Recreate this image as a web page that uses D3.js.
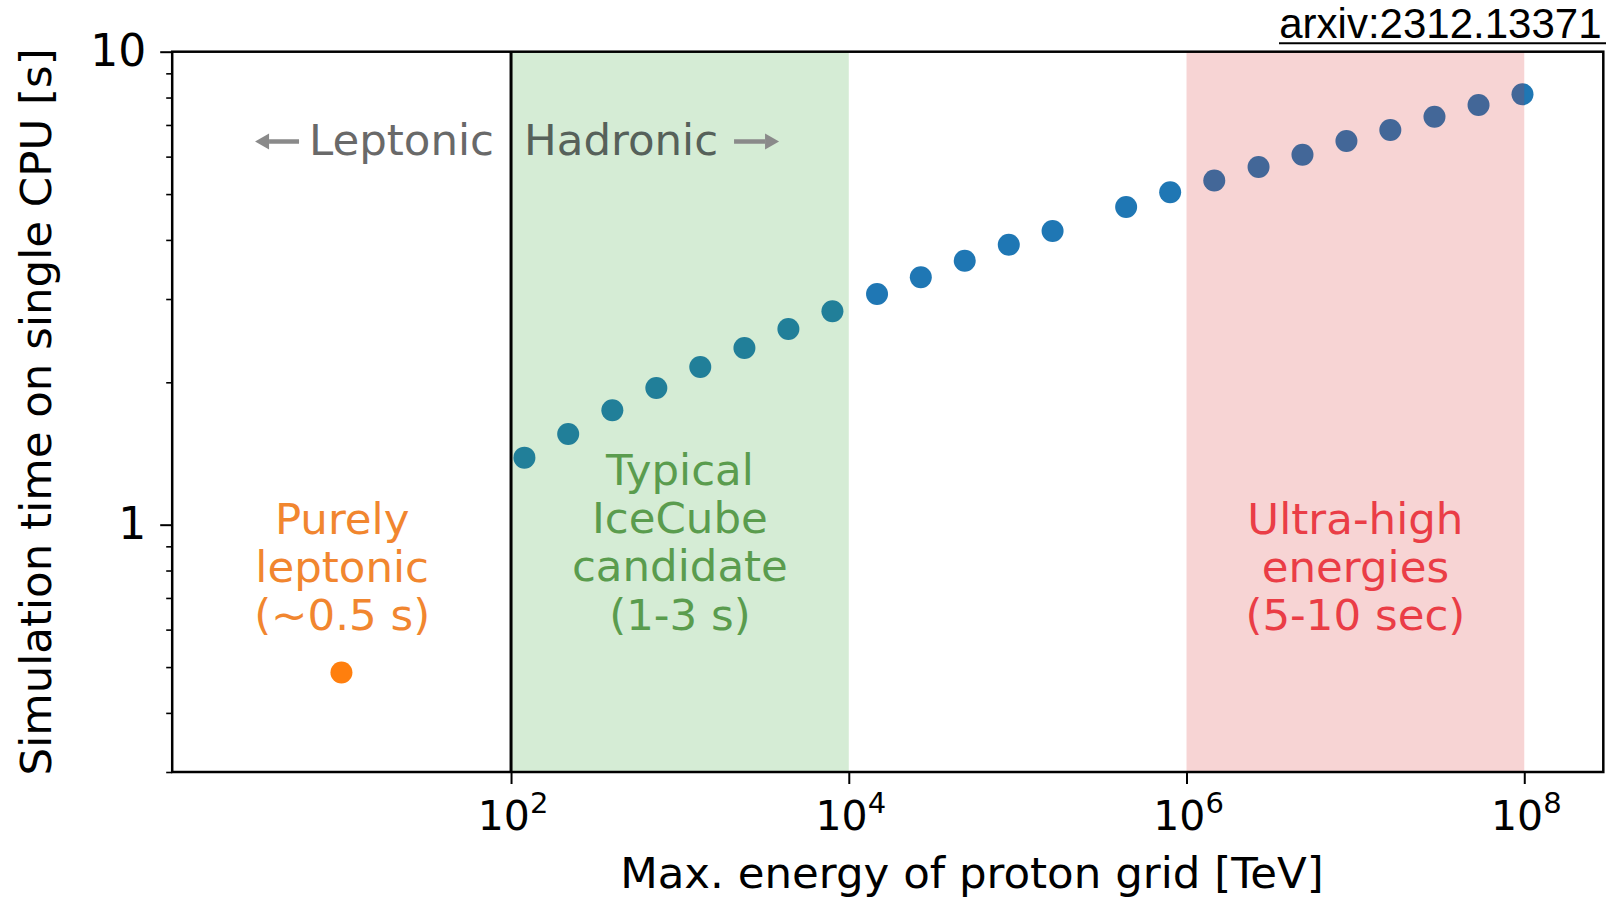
<!DOCTYPE html>
<html>
<head>
<meta charset="utf-8">
<script src="https://cdn.jsdelivr.net/npm/d3@7/dist/d3.min.js"></script>
<style>
  html, body { margin: 0; padding: 0; background: #fff; }
  svg { display: block; font-family: "DejaVu Sans", sans-serif; }
</style>
</head>
<body>
<svg id="chart" width="1607" height="898"></svg>
<script>
// Simulation time per model vs. maximum proton energy of the grid
const energyTeV = [120, 218, 398, 725, 1320, 2410, 4390, 8000, 14700, 26700, 48600, 88600,
                   161000, 439000, 800000, 1.46e6, 2.67e6, 4.86e6, 8.85e6, 1.61e7, 2.94e7, 5.36e7, 9.76e7];
const simTimeSec = [1.386, 1.555, 1.746, 1.945, 2.155, 2.364, 2.593, 2.826, 3.074, 3.334, 3.615, 3.908,
                    4.178, 4.695, 5.043, 5.34, 5.705, 6.058, 6.475, 6.831, 7.288, 7.716, 8.129];

// Purely leptonic run (no proton grid)
const leptonicEnergy = [9.9];
const leptonicTime = [0.487];

// Axis limits and ticks
const xLimits = [Math.pow(10, -0.0065), Math.pow(10, 8.468)];
const yLimits = [0.3, 10];
const xTickExponents = [2, 4, 6, 8];
const yMajorTicks = [1, 10];
const yMinorTicks = [0.3, 0.4, 0.5, 0.6, 0.7, 0.8, 0.9, 2, 3, 4, 5, 6, 7, 8, 9];

// Shaded energy ranges and the leptonic / hadronic boundary
const hadronicRange = [1e2, 1e4];
const uheRange = [1e6, 1e8];
const boundaryEnergy = 1e2;

// Region labels, anchored at (energy) in data units
const leptonicLabel = { energy: 10, lines: ["Purely", "leptonic", "(~0.5 s)"] };
const icecubeLabel = { energy: 1e3, lines: ["Typical", "IceCube", "candidate", "(1-3 s)"] };
const uheLabel = { energy: 1e7, lines: ["Ultra-high", "energies", "(5-10 sec)"] };

const svg = d3.select("#chart");
const plot = { left: 172.2, right: 1603.3, top: 51.7, bottom: 772 };
const fs = 43.5;

const x = d3.scaleLog().domain(xLimits).range([plot.left, plot.right]);
const y = d3.scaleLog().domain(yLimits).range([plot.bottom, plot.top]);

const tabBlue = "#1f77b4", tabOrange = "#ff7f0e", tabGreen = "#2ca02c", tabRed = "#d62728";

// Data points
const pts = energyTeV.map((e, i) => ({ e, t: simTimeSec[i] }));
svg.append("g").selectAll("circle").data(pts).join("circle")
  .attr("cx", d => x(d.e)).attr("cy", d => y(d.t)).attr("r", 11)
  .attr("fill", tabBlue);

svg.append("g").selectAll("circle").data(leptonicEnergy.map((e, i) => ({ e, t: leptonicTime[i] })))
  .join("circle")
  .attr("cx", d => x(d.e)).attr("cy", d => y(d.t)).attr("r", 11)
  .attr("fill", tabOrange);

// Translucent spans drawn over the points
const spans = [{ r: hadronicRange, c: tabGreen }, { r: uheRange, c: tabRed }];
svg.append("g").selectAll("rect").data(spans).join("rect")
  .attr("x", d => x(d.r[0])).attr("width", d => x(d.r[1]) - x(d.r[0]))
  .attr("y", plot.top).attr("height", plot.bottom - plot.top)
  .attr("fill", d => d.c).attr("fill-opacity", 0.2);

// Boundary line
svg.append("line")
  .attr("x1", x(boundaryEnergy)).attr("x2", x(boundaryEnergy))
  .attr("y1", plot.top).attr("y2", plot.bottom)
  .attr("stroke", "#000").attr("stroke-width", 3);

// Region text
function multiline(label, color, firstBaseline) {
  const t = svg.append("text")
    .attr("text-anchor", "middle").attr("font-size", fs).attr("fill", color);
  label.lines.forEach((s, i) => {
    t.append("tspan").attr("x", x(label.energy)).attr("y", firstBaseline + i * 48.2).text(s);
  });
}
multiline(leptonicLabel, "#f1862f", 534);
multiline(icecubeLabel, "#5a9c4e", 485);
multiline(uheLabel, "#ea3d46", 534);

// Leptonic / Hadronic direction labels
const bx = x(boundaryEnergy);
svg.append("text").attr("x", bx - 17).attr("y", 155).attr("text-anchor", "end")
  .attr("font-size", fs).attr("fill", "#696969").text("Leptonic");
svg.append("text").attr("x", bx + 13).attr("y", 155).attr("text-anchor", "start")
  .attr("font-size", fs).attr("fill", "#56615a").text("Hadronic");

function arrow(x0, x1, yy) {
  const dir = Math.sign(x1 - x0);
  const headLen = 14, headHalf = 8;
  svg.append("line")
    .attr("x1", x0).attr("x2", x1 - dir * headLen).attr("y1", yy).attr("y2", yy)
    .attr("stroke", "#8a8a8a").attr("stroke-width", 4.5);
  svg.append("path")
    .attr("d", `M${x1},${yy} L${x1 - dir * headLen},${yy - headHalf} L${x1 - dir * headLen},${yy + headHalf} Z`)
    .attr("fill", "#8a8a8a");
}
arrow(bx - 212, bx - 256, 141.5);
arrow(bx + 223, bx + 268, 141.5);

// Axes frame
svg.append("rect")
  .attr("x", plot.left).attr("y", plot.top)
  .attr("width", plot.right - plot.left).attr("height", plot.bottom - plot.top)
  .attr("fill", "none").attr("stroke", "#000").attr("stroke-width", 2.5);

// X axis
const xAxis = svg.append("g").attr("transform", `translate(0,${plot.bottom})`)
  .call(d3.axisBottom(x).tickValues(xTickExponents.map(p => Math.pow(10, p)))
    .tickSize(12).tickSizeOuter(0).tickFormat(() => ""));
xAxis.select(".domain").remove();
xAxis.selectAll(".tick line").attr("stroke-width", 2);

const xLab = svg.append("g").selectAll("text").data(xTickExponents).join("text")
  .attr("x", p => x(Math.pow(10, p)) + 2).attr("y", 830)
  .attr("text-anchor", "middle").attr("font-size", 41).attr("fill", "#000");
xLab.append("tspan").text("10");
xLab.append("tspan").attr("dy", -17).attr("font-size", 29).text(p => p);

// Y axis
const yAxis = svg.append("g").attr("transform", `translate(${plot.left},0)`)
  .call(d3.axisLeft(y).tickValues(yMajorTicks).tickSize(12).tickSizeOuter(0)
    .tickPadding(14).tickFormat(d3.format("d")));
yAxis.select(".domain").remove();
yAxis.selectAll(".tick line").attr("stroke-width", 2);
yAxis.selectAll(".tick text").attr("font-size", 44).attr("font-family", "DejaVu Sans").attr("fill", "#000");

const yMinor = svg.append("g").attr("transform", `translate(${plot.left},0)`)
  .call(d3.axisLeft(y).tickValues(yMinorTicks).tickSize(6).tickSizeOuter(0).tickFormat(() => ""));
yMinor.select(".domain").remove();
yMinor.selectAll(".tick line").attr("stroke-width", 1.6);

// Axis titles
svg.append("text").attr("x", 972).attr("y", 888).attr("text-anchor", "middle")
  .attr("font-size", fs).attr("fill", "#000").text("Max. energy of proton grid [TeV]");
svg.append("text").attr("transform", `translate(51,${(plot.top + plot.bottom) / 2}) rotate(-90)`)
  .attr("text-anchor", "middle").attr("font-size", fs).attr("fill", "#000")
  .text("Simulation time on single CPU [s]");

// Reference tag
svg.append("text").attr("x", 1601.5).attr("y", 38.3).attr("text-anchor", "end")
  .attr("font-family", "'Liberation Sans', Arial, sans-serif").attr("font-size", 42)
  .attr("fill", "#000").text("arxiv:2312.13371");
svg.append("line").attr("x1", 1279).attr("x2", 1606).attr("y1", 43.3).attr("y2", 43.3)
  .attr("stroke", "#000").attr("stroke-width", 2);
</script>
</body>
</html>
